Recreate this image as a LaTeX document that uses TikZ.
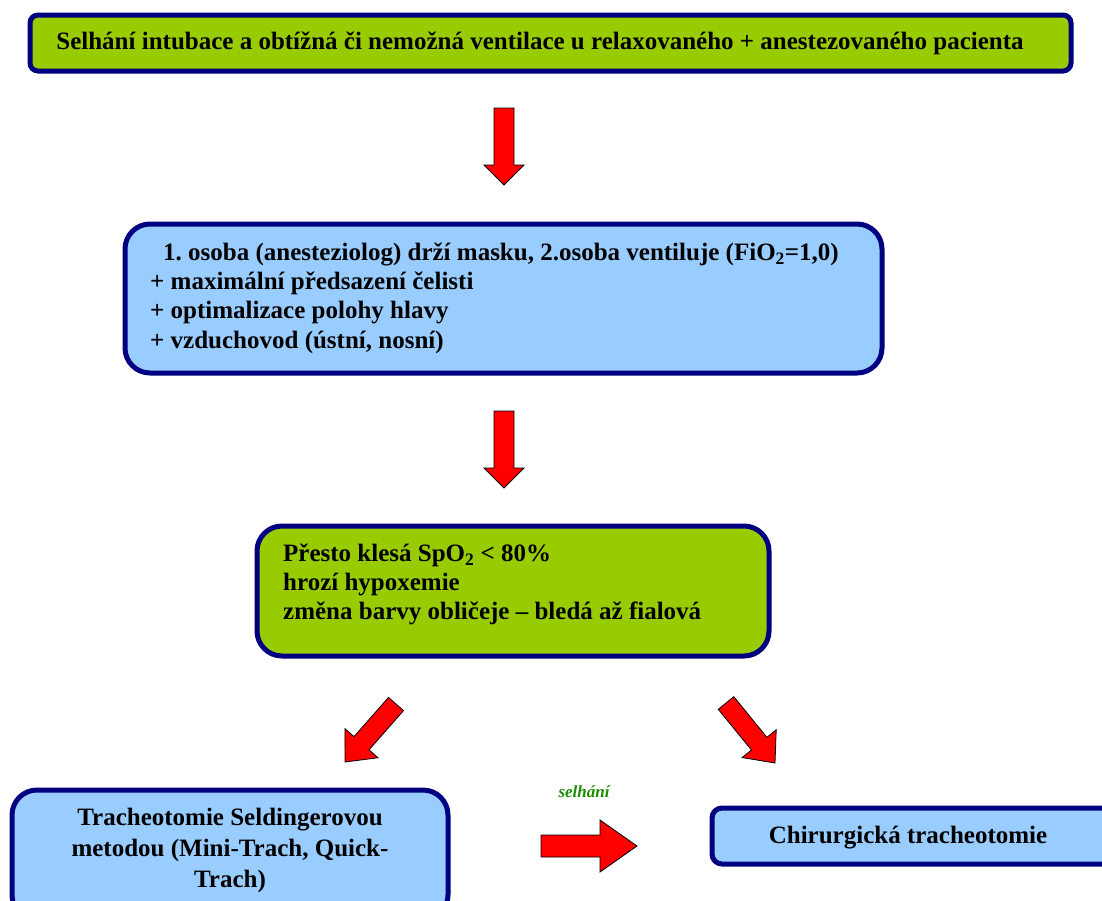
\documentclass[tikz,border=0pt]{standalone}
\usepackage{fontspec}
\setmainfont{Liberation Serif}
\usetikzlibrary{calc}
\frenchspacing
\definecolor{boxgreen}{HTML}{99CC00}
\definecolor{boxblue}{HTML}{99CCFF}
\definecolor{navyb}{HTML}{000080}
\definecolor{lblgreen}{HTML}{1E8C00}
\newcommand\blockarr[5]{%
  \filldraw[arrstyle]
    ($(#1)!#3pt!90:(#2)$) --
    ($(#2)!#5pt!(#1)!#3pt!-90:(#1)$) --
    ($(#2)!#5pt!(#1)!#4pt!-90:(#1)$) --
    (#2) --
    ($(#2)!#5pt!(#1)!#4pt!90:(#1)$) --
    ($(#2)!#5pt!(#1)!#3pt!90:(#1)$) --
    ($(#1)!#3pt!-90:(#2)$) -- cycle;}
\begin{document}
\begin{tikzpicture}[x=1pt,y=-1pt,
  box/.style={draw=navyb, line width=5pt},
  gbox/.style={box, fill=boxgreen},
  bbox/.style={box, fill=boxblue},
  arrstyle/.style={fill=red, draw=black, line width=0.8pt, line join=miter},
  txt/.style={font=\fontsize{25}{29}\selectfont\bfseries, inner sep=0pt, text height=17pt, text depth=6pt},
  lbl/.style={font=\fontsize{17}{19}\selectfont\bfseries\itshape, text=lblgreen, inner sep=0pt}]
\useasboundingbox (0,0) rectangle (1102,900);
\clip (0,0) rectangle (1102,900);
% boxes
\draw[gbox, rounded corners=8pt] (30,15) rectangle (1071,71);
\draw[bbox, rounded corners=25pt] (125,224) rectangle (882,373);
\draw[gbox, rounded corners=25pt] (257,526) rectangle (769,656);
\draw[bbox, rounded corners=25pt] (12,790) rectangle (448,920);
\draw[bbox, rounded corners=10pt] (712,808) rectangle (1120,864);
% texts
\node[txt] (t1) at (540,44) {Selhání intubace a obtížná či nemožná ventilace u relaxovaného + anestezovaného pacienta};
\node[txt, anchor=west] (t2a) at (163,255) {1. osoba (anesteziolog) drží masku, 2.osoba ventiluje (FiO\textsubscript{2}=1,0)};
\node[txt, anchor=west] (t2b) at (150,284) {+ maximální předsazení čelisti};
\node[txt, anchor=west] (t2c) at (150,313) {+ optimalizace polohy hlavy};
\node[txt, anchor=west] (t2d) at (150,343) {+ vzduchovod (ústní, nosní)};
\node[txt, anchor=west] (t3a) at (283,556) {Přesto klesá SpO\textsubscript{2} < 80\%};
\node[txt, anchor=west] (t3b) at (283,585) {hrozí hypoxemie};
\node[txt, anchor=west] (t3c) at (283,614) {změna barvy obličeje – bledá až fialová};
\node[txt] (t4a) at (230,820) {Tracheotomie Seldingerovou};
\node[txt] (t4b) at (230,851) {metodou (Mini-Trach, Quick-};
\node[txt] (t4c) at (230,882) {Trach)};
\node[txt] (t5) at (908,838) {Chirurgická tracheotomie};
\node[lbl] (sel) at (584,792) {selhání};
% arrows
\coordinate (a1t) at (504,108); \coordinate (a1p) at (504,185);
\coordinate (a2t) at (504,411); \coordinate (a2p) at (504,488);
\coordinate (a3t) at (396,704); \coordinate (a3p) at (345,762);
\coordinate (a4t) at (726,703); \coordinate (a4p) at (775,763);
\coordinate (a5t) at (541,846); \coordinate (a5p) at (637,846);
\blockarr{a1t}{a1p}{10}{20}{20}
\blockarr{a2t}{a2p}{10}{20}{20}
\blockarr{a3t}{a3p}{10}{22}{25}
\blockarr{a4t}{a4p}{10}{22}{25}
\blockarr{a5t}{a5p}{11}{26}{37}
\end{tikzpicture}
\end{document}
